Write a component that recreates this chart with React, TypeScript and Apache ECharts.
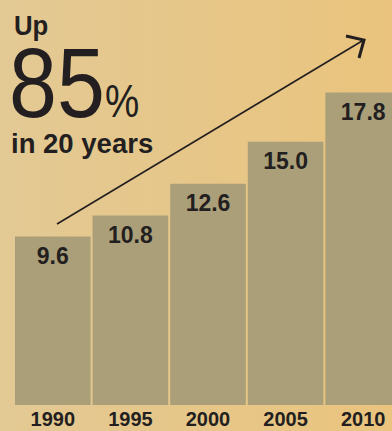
import React, { useEffect, useRef } from "react";
import * as echarts from "echarts";

const years = ["1990", "1995", "2000", "2005", "2010"];
const values = [9.6, 10.8, 12.6, 15.0, 17.8];
const titleLines = ["Up", "85", "%", "in 20 years"];

const FONT = "'Liberation Sans', Arial, sans-serif";
const INK = "#231f20";

export default function App() {
  const ref = useRef<HTMLDivElement>(null);
  useEffect(() => {
    const chart = echarts.init(ref.current!, undefined, { renderer: "svg" });
    chart.setOption({
      animation: false,
      backgroundColor: new echarts.graphic.LinearGradient(0, 0, 1, 0, [
        { offset: 0, color: "#e3c994" },
        { offset: 1, color: "#eac47d" },
      ]),
      grid: { left: 14, right: 0, top: 54, bottom: 26 },
      xAxis: {
        type: "category",
        data: years,
        axisLine: { show: false },
        axisTick: { show: false },
        axisLabel: {
          color: INK,
          fontFamily: FONT,
          fontWeight: "bold",
          fontSize: 20,
          margin: 4,
        },
      },
      yAxis: { type: "value", min: 0, max: 20, show: false },
      series: [
        {
          type: "bar",
          data: values,
          barCategoryGap: "2.5%",
          itemStyle: {
            color: new echarts.graphic.LinearGradient(0, 0, 1, 0, [
              { offset: 0, color: "#aaa280" },
              { offset: 1, color: "#ab9f79" },
            ], true),
          },
          label: {
            show: true,
            position: "insideTop",
            distance: 8,
            color: INK,
            fontFamily: FONT,
            fontWeight: "bold",
            fontSize: 23,
            formatter: (p: any) => Number(p.value).toFixed(1),
          },
        },
      ],
      graphic: [
        {
          type: "text",
          x: 14,
          y: 26,
          scaleX: 0.92,
          style: { text: titleLines[0], font: `bold 28px ${FONT}`, fill: INK, verticalAlign: "middle" },
        },
        {
          type: "text",
          x: 9,
          y: 83,
          scaleX: 0.87,
          style: { text: titleLines[1], font: `99px ${FONT}`, fill: INK, verticalAlign: "middle" },
        },
        {
          type: "text",
          x: 105,
          y: 101,
          scaleX: 0.82,
          style: { text: titleLines[2], font: `47px ${FONT}`, fill: INK, verticalAlign: "middle" },
        },
        {
          type: "text",
          x: 11,
          y: 143,
          style: { text: titleLines[3], font: `bold 27.5px ${FONT}`, fill: INK, verticalAlign: "middle" },
        },
        {
          type: "line",
          shape: { x1: 57, y1: 224, x2: 362, y2: 41 },
          style: { stroke: INK, lineWidth: 1.6 },
        },
        {
          type: "polyline",
          shape: { points: [[346, 36], [364, 40], [359, 58]] },
          style: { stroke: INK, lineWidth: 3, fill: null },
        },
      ],
    });
    return () => chart.dispose();
  }, []);
  return (
    <div style={{ position: "fixed", left: 0, top: 0, width: 392, height: 431, overflow: "hidden" }}>
      <div ref={ref} style={{ width: 402, height: 431 }} />
    </div>
  );
}
